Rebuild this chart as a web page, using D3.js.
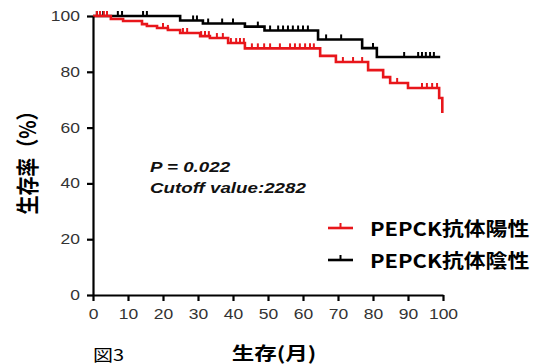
<!DOCTYPE html>
<html>
<head>
<meta charset="utf-8">
<script src="https://cdn.jsdelivr.net/npm/d3@7"></script>
<style>
  body { margin: 0; background: #fff; }
  svg { display: block; }
</style>
</head>
<body>
<svg id="kmChart" width="547" height="364"></svg>
<script>
// Kaplan-Meier data (months, survival %)
const posTimes = [0, 5.1, 8.6, 14, 15.4, 18.3, 21.4, 24.9, 30.6, 33.4, 38.6, 43.4, 64.9, 69.4, 78.6, 82.9, 84.9, 90, 98.9, 99.8];
const posSurv  = [100, 98.9, 98.2, 97.1, 96.4, 95.7, 95, 93.9, 92.8, 92.1, 90.3, 88.4, 85.7, 83.5, 80.6, 78.1, 76, 74.2, 70.6, 65.2];
const posCensor = [1.1, 2, 3.1, 4, 20, 21.4, 25.7, 26.9, 30.9, 32, 33.1, 35.4, 37.1, 39.4, 40.9, 42, 43.1, 45.4, 47.1, 48.9, 50.6, 53.4, 56.3, 57.7, 59.1, 60.6, 62, 63.1, 71.4, 74.3, 76.9, 86.9, 94, 95.4, 96.9, 98.3];

const negTimes = [0, 24.9, 31.4, 43.4, 49, 64.3, 76.9, 81.1, 99.2];
const negSurv  = [100, 98.4, 97.3, 96.2, 94.8, 91.6, 88.5, 85.3, 85.3];
const negCensor = [1.1, 2, 2.9, 7.1, 8.3, 14.3, 15.4, 28.6, 29.7, 32.9, 36.9, 40, 47.1, 50.6, 52.9, 54.3, 55.7, 57.1, 58.6, 60, 61.4, 66.6, 70.9, 80, 88.9, 92.9, 94, 95.1, 96.3, 97.4];

const xTicks = [0, 10, 20, 30, 40, 50, 60, 70, 80, 90, 100];
const yTicks = [0, 20, 40, 60, 80, 100];
const seriesNames = ["PEPCK抗体陽性", "PEPCK抗体陰性"];
const seriesColors = ["#e8161b", "#000000"];

const SX = 1.25; // the figure's text is stretched horizontally

const svg = d3.select("#kmChart");
svg.append("rect").attr("width", 547).attr("height", 364).attr("fill", "#fff");

const x = d3.scaleLinear().domain([0, 100]).range([93, 443]);
const y = d3.scaleLinear().domain([0, 100]).range([295, 16]);

function stepValue(times, surv, t) {
  let v = surv[0];
  for (let i = 0; i < times.length; i++) if (times[i] <= t) v = surv[i];
  return v;
}

function drawCurve(times, surv, censor, color) {
  const pts = times.map((t, i) => [t, surv[i]]);
  const line = d3.line().x(d => x(d[0])).y(d => y(d[1])).curve(d3.curveStepAfter);
  svg.append("path")
    .datum(pts)
    .attr("fill", "none")
    .attr("stroke", color)
    .attr("stroke-width", 2.6)
    .attr("d", line);
  svg.append("g").selectAll("line")
    .data(censor)
    .join("line")
    .attr("x1", d => x(d)).attr("x2", d => x(d))
    .attr("y1", d => y(stepValue(times, surv, d)))
    .attr("y2", d => y(stepValue(times, surv, d)) - 5)
    .attr("stroke", color)
    .attr("stroke-width", 2);
}

drawCurve(negTimes, negSurv, negCensor, seriesColors[1]);
drawCurve(posTimes, posSurv, posCensor, seriesColors[0]);

// Axes
const xAxis = svg.append("g")
  .attr("transform", "translate(0,295)")
  .call(d3.axisBottom(x).tickValues(xTicks).tickSize(6).tickSizeOuter(0).tickPadding(8));
const yAxis = svg.append("g")
  .attr("transform", "translate(93,0)")
  .call(d3.axisLeft(y).tickValues(yTicks).tickSize(6).tickSizeOuter(0).tickPadding(7));

[xAxis, yAxis].forEach(ax => {
  ax.select(".domain").attr("stroke", "#000").attr("stroke-width", 2.2);
  ax.selectAll(".tick line").attr("stroke", "#000").attr("stroke-width", 2.2);
  ax.selectAll(".tick text")
    .attr("fill", "#333")
    .style("font-family", "Liberation Sans, Arial, sans-serif")
    .style("font-size", "14px");
});
xAxis.selectAll(".tick text").attr("transform", `scale(${SX},1)`);
yAxis.selectAll(".tick text")
  .attr("x", -13 / SX)
  .attr("transform", `scale(${SX},1)`);

function label(txt, px, py, opts) {
  const t = svg.append("text")
    .attr("transform", `translate(${px},${py}) scale(${opts.sx || SX},1)`)
    .attr("text-anchor", opts.anchor || "start")
    .attr("fill", opts.fill || "#000")
    .style("font-family", opts.family || "Liberation Sans, Arial, sans-serif")
    .style("font-size", opts.size + "px")
    .style("font-weight", opts.weight || "normal")
    .style("font-style", opts.style || "normal")
    .text(txt);
  return t;
}

// Annotation
label("P = 0.022", 150, 172, { size: 15, weight: "bold", style: "italic", fill: "#111" });
label("Cutoff value:2282", 150, 193, { size: 15, weight: "bold", style: "italic", fill: "#111" });

// Axis titles
label("生存(月)", 274, 360, { size: 18, weight: "bold", anchor: "middle", family: "Noto Sans CJK JP, sans-serif" });
svg.append("text")
  .attr("transform", "translate(36,158) rotate(-90) scale(1,1.2)")
  .attr("text-anchor", "middle")
  .style("font-family", "Noto Sans CJK JP, sans-serif")
  .style("font-size", "19px")
  .style("font-weight", "bold")
  .text("生存率（%）");
label("図3", 93, 361, { size: 16, family: "Noto Sans CJK JP, sans-serif" });

// Legend
seriesNames.forEach((name, i) => {
  const ly = 228 + i * 32;
  const g = svg.append("g");
  g.append("line").attr("x1", 328).attr("x2", 353).attr("y1", ly).attr("y2", ly)
    .attr("stroke", seriesColors[i]).attr("stroke-width", 2.6);
  g.append("line").attr("x1", 340.5).attr("x2", 340.5).attr("y1", ly).attr("y2", ly - 5)
    .attr("stroke", seriesColors[i]).attr("stroke-width", 2);
  label(name, 370, ly + 8, { size: 19, weight: "bold", family: "Noto Sans CJK JP, sans-serif", sx: 1.15 });
});
</script>
</body>
</html>
